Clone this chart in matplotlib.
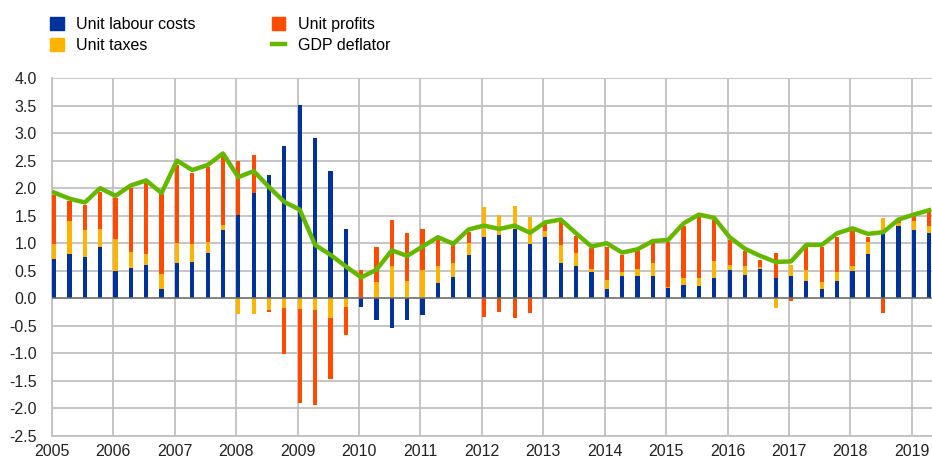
import numpy as np
import matplotlib.pyplot as plt
from matplotlib.patches import Patch
from matplotlib.lines import Line2D

plt.rcParams['font.family'] = ['Liberation Sans', 'DejaVu Sans']
plt.rcParams['axes.unicode_minus'] = False

# quarterly contributions, 2005Q1 - 2019Q2
ulc = [0.71, 0.81, 0.75, 0.94, 0.50, 0.55, 0.61, 0.17,
       0.64, 0.66, 0.83, 1.24, 1.52, 1.92, 2.23, 2.77,
       3.51, 2.91, 2.31, 1.26, -0.15, -0.40, -0.54, -0.40,
       -0.31, 0.27, 0.39, 0.78, 1.12, 1.15, 1.25, 0.99,
       1.12, 0.64, 0.59, 0.48, 0.16, 0.41, 0.41, 0.41,
       0.18, 0.25, 0.22, 0.36, 0.52, 0.43, 0.54, 0.36,
       0.41, 0.32, 0.16, 0.32, 0.50, 0.80, 1.16, 1.31,
       1.24, 1.18]
taxes = [0.28, 0.59, 0.49, 0.32, 0.57, 0.29, 0.19, 0.28,
         0.37, 0.33, 0.19, 0.09, -0.28, -0.28, -0.22, -0.17,
         -0.19, -0.22, -0.36, -0.15, 0.0, 0.29, 0.59, 0.31,
         0.52, 0.32, 0.25, 0.23, 0.54, 0.36, 0.43, 0.49,
         0.11, 0.32, 0.24, 0.06, 0.18, 0.07, 0.13, 0.23,
         0.02, 0.11, 0.14, 0.32, 0.09, 0.16, 0.03, -0.17,
         0.20, 0.19, 0.13, 0.16, 0.09, 0.23, 0.29, 0.05,
         0.16, 0.14]
profits = [0.88, 0.37, 0.45, 0.67, 0.76, 1.17, 1.30, 1.44,
           1.41, 1.28, 1.37, 1.27, 0.97, 0.68, -0.03, -0.85,
           -1.71, -1.71, -1.11, -0.51, 0.52, 0.64, 0.83, 0.88,
           0.74, 0.53, 0.36, 0.19, -0.34, -0.24, -0.36, -0.27,
           0.12, 0.43, 0.31, 0.37, 0.60, 0.31, 0.33, 0.36,
           0.83, 0.96, 1.13, 0.75, 0.45, 0.26, 0.13, 0.47,
           -0.05, 0.42, 0.64, 0.64, 0.64, 0.08, -0.27, 0.04,
           0.12, 0.24]
deflator = [1.92, 1.81, 1.74, 2.00, 1.86, 2.05, 2.14, 1.91,
            2.50, 2.33, 2.42, 2.63, 2.20, 2.31, 2.02, 1.75,
            1.61, 0.97, 0.79, 0.58, 0.38, 0.52, 0.87, 0.77,
            0.94, 1.11, 0.99, 1.25, 1.32, 1.26, 1.32, 1.19,
            1.38, 1.43, 1.18, 0.94, 1.00, 0.83, 0.89, 1.04,
            1.06, 1.36, 1.52, 1.46, 1.11, 0.90, 0.77, 0.66,
            0.67, 0.97, 0.97, 1.18, 1.27, 1.17, 1.20, 1.43,
            1.52, 1.60]

years = list(range(2005, 2020))
series = [("Unit labour costs", ulc, "#003299"),
          ("Unit taxes", taxes, "#FFB400"),
          ("Unit profits", profits, "#FF4B00")]

x = 2005 + np.arange(len(ulc)) * 0.25
bw = 0.068

fig = plt.figure(figsize=(9.32, 4.61), dpi=100)
ax = fig.add_axes([52 / 932, 1 - 436 / 461, 1 - 52 / 932, 358 / 461])

pos = np.zeros(len(x))
neg = np.zeros(len(x))
for name, vals, col in series:
    v = np.array(vals)
    bottom = np.where(v >= 0, pos, neg)
    ax.bar(x, v, width=bw, bottom=bottom, align='edge', color=col, zorder=3)
    pos += np.clip(v, 0, None)
    neg += np.clip(v, None, 0)

ax.plot(x + bw / 2, deflator, color="#65B800", lw=3.2, zorder=4,
        solid_joinstyle='round')
ax.axhline(0, color="#707070", lw=1.1, zorder=3.5)

ax.set_xlim(2005, 2019.33)
ax.set_ylim(-2.5, 4.0)
ax.set_xticks(years)
ax.set_xticklabels([str(y) for y in years])
ax.set_yticks(np.arange(-2.5, 4.01, 0.5))
ax.set_yticklabels([f"{t:.1f}" for t in np.arange(-2.5, 4.01, 0.5)])
ax.grid(True, color="#c0c0c0", lw=1.3, zorder=0)
ax.set_axisbelow(True)
for s in ["top", "right"]:
    ax.spines[s].set_visible(False)
for s in ["left", "bottom"]:
    ax.spines[s].set_color("#c0c0c0")
    ax.spines[s].set_linewidth(1.3)
ax.tick_params(axis='both', length=0, labelsize=11.5, colors="#222222")
ax.tick_params(axis='y', pad=11)
ax.tick_params(axis='x', pad=6)

handles = [Patch(color="#003299"), Patch(color="#FFB400"),
           Patch(color="#FF4B00"), Line2D([], [], color="#65B800", lw=3.2)]
labels = ["Unit labour costs", "Unit taxes", "Unit profits", "GDP deflator"]
fig.legend(handles, labels, ncol=2, loc="upper left",
           bbox_to_anchor=(50 / 932, 1 - 17 / 461), frameon=False,
           fontsize=11.5, handlelength=0.85, handleheight=0.85,
           handletextpad=0.8, columnspacing=4.75, labelspacing=0.38,
           borderpad=0, borderaxespad=0)

fig.savefig("out.png", dpi=100)
